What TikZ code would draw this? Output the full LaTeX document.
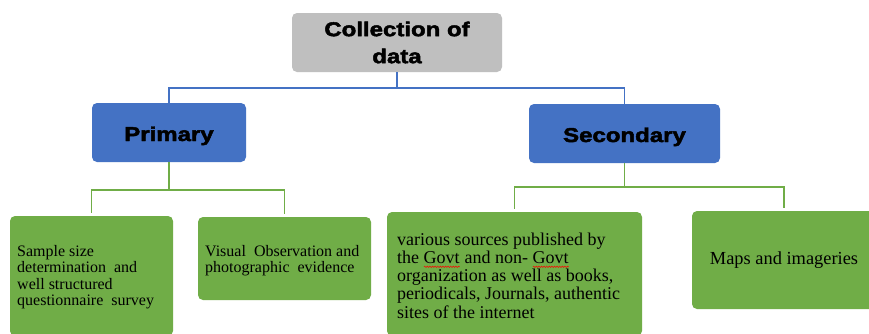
\documentclass[tikz,border=0pt]{standalone}
\usepackage{fontspec}
\usetikzlibrary{decorations.pathmorphing}
\setmainfont{Liberation Serif}
\newfontfamily\headfont[FakeStretch=1.2,FakeBold=2.4]{Liberation Sans Bold}
\definecolor{boxgray}{HTML}{BFBFBF}
\definecolor{boxblue}{HTML}{4472C4}
\definecolor{boxgreen}{HTML}{70AD47}
% red wavy spell-check underline
\newsavebox\spellbox
\newcommand\spellmark[1]{\sbox\spellbox{#1}\rlap{\usebox\spellbox}%
  \tikz[baseline=0pt]\draw[red, line width=0.5pt, decorate,
    decoration={snake, amplitude=0.7pt, segment length=2.6pt}]
    (0pt,-3.2pt) -- (\the\wd\spellbox,-3.2pt);}
\tikzset{
  card/.style={rounded corners=5pt, inner sep=0pt},
  graybox/.style={card, fill=boxgray},
  bluebox/.style={card, fill=boxblue},
  greenbox/.style={card, fill=boxgreen},
  headtext/.style={font=\headfont\fontsize{20}{27}\selectfont, align=center},
  smalltext/.style={font=\fontsize{16}{16.5}\selectfont, align=left, inner sep=0pt, anchor=north west},
  bigtext/.style={font=\fontsize{18}{18.2}\selectfont, align=left, inner sep=0pt},
  blueline/.style={draw=boxblue, line width=1.6pt},
  greenline/.style={draw=boxgreen, line width=1.6pt},
}
\begin{document}
\begin{tikzpicture}[x=1pt, y=-1pt]
\clip (0,0) rectangle (869,333);
\fill[white] (0,0) rectangle (869,333);

% root
\node[graybox, headtext, minimum width=210pt, minimum height=59pt] (root) at (397,42.5) {Collection of\\data};

% second level
\node[bluebox, headtext, text height=17pt, text depth=0pt, minimum width=154pt, minimum height=59pt] (primary) at (169,132.5) {Primary};
\node[bluebox, headtext, text height=17pt, text depth=0pt, minimum width=191pt, minimum height=59pt] (secondary) at (624.5,133.5) {Secondary};

% leaves
\node[greenbox, minimum width=163pt, minimum height=120pt] (sample) at (91.5,276) {};
\node[smalltext] (sampleT) at (17,245) {Sample size\\determination\ \ and\\well structured\\questionnaire\ \ survey};

\node[greenbox, minimum width=173pt, minimum height=83pt] (visual) at (284.5,258.5) {};
\node[smalltext] (visualT) at (205,245) {Visual\ \ Observation and\\photographic\ \ evidence};

\node[greenbox, minimum width=255pt, minimum height=124pt] (sources) at (514.5,274) {};
\node[bigtext, anchor=north west] (sourcesT) at (397,232.7) {various sources published by\\the \spellmark{Govt} and non- \spellmark{Govt}\\organization as\ well as books,\\periodicals, Journals, authentic\\sites of the internet};

\node[greenbox, font=\fontsize{18.4}{18.4}\selectfont, inner sep=0pt, minimum width=184pt, minimum height=98pt] (maps) at (784,260) {Maps and imageries};

% connectors from the root
\coordinate (rootJ) at (397,88);
\draw[blueline] (root.south) -- (rootJ);
\draw[blueline] (rootJ) -| (primary.north);
\draw[blueline] (rootJ) -| (secondary.north);

% connectors under primary
\coordinate (primJ) at (169,190);
\draw[greenline] (primary.south) -- (primJ);
\draw[greenline, shorten >=3pt] (primJ) -| (sample.north);
\draw[greenline, shorten >=3pt] (primJ) -| (visual.north);

% connectors under secondary
\coordinate (secJ) at (624.5,187);
\draw[greenline] (secondary.south) -- (secJ);
\draw[greenline, shorten >=3pt] (secJ) -| (sources.north);
\draw[greenline, shorten >=3pt] (secJ) -| (maps.north);
\end{tikzpicture}
\end{document}
